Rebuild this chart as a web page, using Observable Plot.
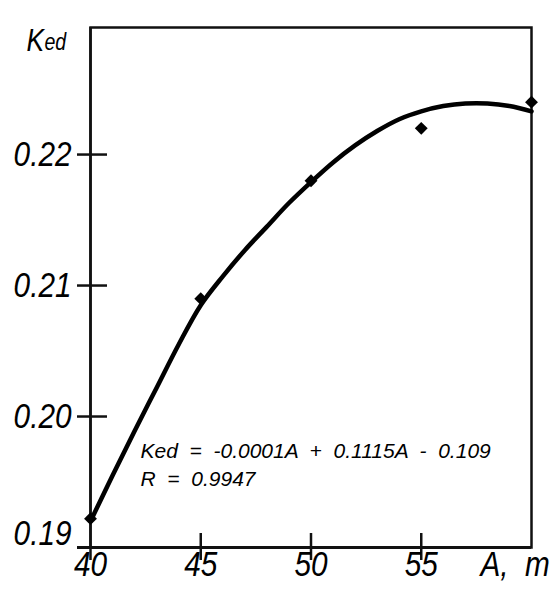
<!DOCTYPE html>
<html>
<head>
<meta charset="utf-8">
<script src="https://cdn.jsdelivr.net/npm/d3@7"></script>
<script src="https://cdn.jsdelivr.net/npm/@observablehq/plot@0.6"></script>
<style>
  html, body { margin: 0; padding: 0; background: #fff; }
  svg { overflow: visible; }
</style>
</head>
<body>
<div id="chart"></div>
<script>
// Measured points (A, m  ->  Ked)
const pointA = [40, 45, 50, 55, 60];
const pointK = [0.1922, 0.2090, 0.2180, 0.2220, 0.2240];

// Fitted trend curve
const curveA = [40, 41, 42, 43, 44, 45, 46, 47, 48, 49, 50, 51, 52, 53, 54, 55, 56, 57, 58, 59, 60];
const curveK = [0.1920, 0.1955, 0.1989, 0.2022, 0.2055, 0.2085, 0.2107, 0.2127, 0.2145, 0.2163, 0.2179,
                0.2194, 0.2207, 0.2218, 0.2227, 0.2233, 0.2237, 0.2239, 0.2239, 0.2237, 0.2233];

// Tick labels
const xTickValues = [40, 45, 50, 55];
const xTickLabels = ["40", "45", "50", "55"];
const xTickMarks = [45, 50, 55];
const yTickValues = [0.20, 0.21, 0.22];
const yTickLabels = ["0.20", "0.21", "0.22"];
const yBottomValue = [0.19];
const yBottomLabel = ["0.19"];

const yLabelK = "K";
const yLabelSub = "ed";
const xLabel = "A,  m";
const eqLine1 = "Ked  =  -0.0001A  +  0.1115A  -  0.109";
const eqLine2 = "R  =  0.9947";

const FONT = "'Liberation Sans', Arial, sans-serif";
const INK = "#111";

const chart = Plot.plot({
  width: 551,
  height: 590,
  marginLeft: 90,
  marginRight: 20,
  marginTop: 27,
  marginBottom: 43,
  x: { domain: [40, 60], axis: null },
  y: { domain: [0.19, 0.2297], axis: null },
  style: { fontFamily: FONT, background: "#fff", color: "#000" },
  marks: [
    Plot.frame({ stroke: INK, strokeWidth: 2.5 }),
    // extended bottom axis line and left axis line
    Plot.ruleY(yBottomValue, { stroke: INK, strokeWidth: 3, insetLeft: -13 }),
    Plot.ruleX([40], { stroke: INK, strokeWidth: 2.5, insetBottom: -13 }),
    // y tick marks crossing the left axis
    Plot.ruleY(yTickValues, { stroke: INK, strokeWidth: 2.5, insetLeft: -13, insetRight: 424 }),
    // x tick marks crossing the bottom axis
    Plot.ruleX(xTickMarks, { stroke: INK, strokeWidth: 2.5, insetTop: 506, insetBottom: -13 }),
    // trend curve
    Plot.line(curveA, { x: curveA, y: curveK, curve: "catmull-rom", stroke: "#000", strokeWidth: 4.5 }),
    // measured points
    Plot.dot(pointA, { x: pointA, y: pointK, symbol: "diamond2", r: 5.8, fill: "#000", stroke: "none" }),
    // y tick labels
    Plot.text(yTickValues, { y: yTickValues, text: yTickLabels, frameAnchor: "left", dx: -19,
      textAnchor: "end", fontSize: 35, fontStyle: "italic", fill: "#000" }),
    Plot.text(yBottomValue, { y: yBottomValue, text: yBottomLabel, frameAnchor: "left", dx: -19, dy: -14,
      textAnchor: "end", fontSize: 35, fontStyle: "italic", fill: "#000" }),
    // x tick labels
    Plot.text(xTickValues, { x: xTickValues, text: xTickLabels, frameAnchor: "bottom", dy: 28,
      fontSize: 35, fontStyle: "italic", fill: "#000", letterSpacing: 3 }),
    // axis labels
    Plot.text([xLabel], { frameAnchor: "bottom-right", dx: -51, dy: 28, textAnchor: "start",
      fontSize: 35, fontStyle: "italic", fill: "#000" }),
    Plot.text([yLabelK], { frameAnchor: "top-left", dx: -64, dy: 1, textAnchor: "start",
      fontSize: 31, fontStyle: "italic", fill: "#000" }),
    Plot.text([yLabelSub], { frameAnchor: "top-left", dx: -46, dy: 6, textAnchor: "start",
      fontSize: 23, fontStyle: "italic", fill: "#000" }),
    // regression annotation
    Plot.text([eqLine1], { frameAnchor: "bottom-left", dx: 50, dy: -90, textAnchor: "start",
      fontSize: 21, fontStyle: "italic", fill: "#000", letterSpacing: 0.5 }),
    Plot.text([eqLine2], { frameAnchor: "bottom-left", dx: 50, dy: -62, textAnchor: "start",
      fontSize: 21, fontStyle: "italic", fill: "#000", letterSpacing: 0.5 })
  ]
});

// condense the big drafting-style labels horizontally
const squeeze = 0.85;
chart.querySelectorAll("g[font-size]").forEach(g => {
  const fs = g.getAttribute("font-size");
  if (fs === "35" || fs === "31" || fs === "23") {
    g.querySelectorAll("text").forEach(t => {
      const x = t.getAttribute("x");
      if (x) t.setAttribute("x", +x / squeeze);
      const tr = t.getAttribute("transform") || "";
      t.setAttribute("transform", tr + ` scale(${squeeze},1)`);
    });
  }
});
chart.querySelectorAll("text").forEach(t => t.setAttribute("xml:space", "preserve"));
chart.style.whiteSpace = "pre";
document.getElementById("chart").appendChild(chart);
</script>
</body>
</html>
